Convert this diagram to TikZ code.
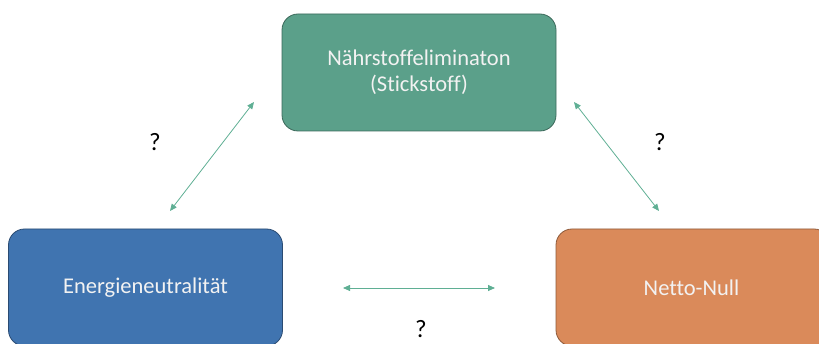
\documentclass[tikz,border=0pt]{standalone}
\usepackage{fontspec}
\setmainfont{Carlito}[Ligatures=NoCommon]
\usetikzlibrary{arrows.meta}

\definecolor{boxgreen}{HTML}{5BA08A}
\definecolor{boxblue}{HTML}{4074B0}
\definecolor{boxorange}{HTML}{DA8A5A}
\definecolor{arrowgreen}{HTML}{5FAF94}

\begin{document}
\begin{tikzpicture}[x=1pt, y=-1pt,
    goalbox/.style={draw=#1!65!black, fill=#1, line width=0.8pt, rounded corners=16pt,
      minimum width=274pt, minimum height=117pt, text=white!95!black, align=center,
      font=\fontsize{22.5}{25.5}\selectfont, inner sep=0pt},
    link/.style={arrowgreen, line width=0.8pt, {Triangle[length=7pt,width=6pt]}-{Triangle[length=7pt,width=6pt]}},
    query/.style={font=\fontsize{25}{28}\selectfont}]
  \useasboundingbox (0, 0) rectangle (819, 344);
  \clip (0, 0) rectangle (819, 344);

  \node[goalbox=boxgreen] (naehr) at (419, 72.5) {Nährstoffeliminaton\\(Stickstoff)};
  \node[goalbox=boxblue] (energie) at (145.5, 287.5) {Energieneutralität};
  \node[goalbox=boxorange] (netto) at (693, 287.5) {\hspace*{-3pt}Netto-Null};

  \coordinate (ne1) at (170, 211);
  \coordinate (ne2) at (254, 102);
  \coordinate (nn1) at (574, 102);
  \coordinate (nn2) at (659, 211);
  \coordinate (en1) at (343, 288);
  \coordinate (en2) at (495, 288);

  \draw[link] (ne1) -- (ne2);
  \draw[link] (nn1) -- (nn2);
  \draw[link] (en1) -- (en2);

  \node[query] (q1) at (155, 142) {?};
  \node[query] (q2) at (660, 142) {?};
  \node[query] (q3) at (421, 329) {?};
\end{tikzpicture}
\end{document}
